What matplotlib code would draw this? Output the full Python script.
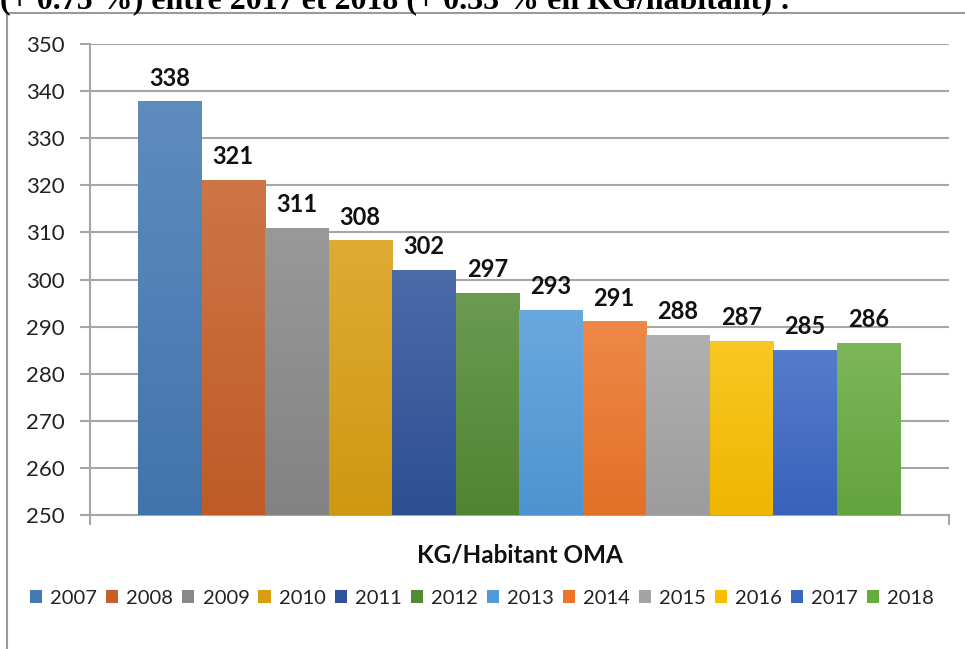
import numpy as np
import matplotlib
matplotlib.use('Agg')
import matplotlib.pyplot as plt
from matplotlib.colors import to_rgb
from matplotlib.patches import Patch, Rectangle

plt.rcParams['font.family'] = ['Lato', 'DejaVu Sans']

# data
years = ['2007', '2008', '2009', '2010', '2011', '2012',
         '2013', '2014', '2015', '2016', '2017', '2018']
kg_per_hab = [337.7, 321.1, 310.8, 308.2, 302.0, 297.1,
              293.4, 291.0, 288.1, 286.8, 285.0, 286.4]
bar_colors = ['#4479b3', '#c65f28', '#888888', '#d89e12', '#2f529a', '#538a35',
              '#519ad9', '#ec7529', '#a3a3a3', '#f9be00', '#3a67c3', '#67aa3f']
title_txt = '(+ 0.75 %) entre 2017 et 2018 (+ 0.33 % en KG/habitant) :'
xlabel_txt = 'KG/Habitant OMA'
y_min, y_max, y_step = 250, 350, 10


def mix(c, other, t):
    c = np.array(to_rgb(c))
    return c * (1 - t) + np.array(other) * t


fig = plt.figure(figsize=(9.65, 6.49), dpi=100)
ax = fig.add_axes([90 / 965, 1 - 515 / 649, 859 / 965, 471 / 649])

x = np.arange(len(years))
vals = np.array(kg_per_hab)
bars = ax.bar(x, vals - y_min, bottom=y_min, width=1.0, color=bar_colors,
              zorder=3, linewidth=0)

# vertical gradient on each bar (lighter at top)
grad = np.linspace(0, 1, 128).reshape(-1, 1, 1)
for rect, c in zip(bars, bar_colors):
    top = mix(c, (1, 1, 1), 0.14)
    bot = mix(c, (0, 0, 0), 0.04)
    img = top * (1 - grad) + bot * grad
    x0, y0 = rect.get_x(), rect.get_y()
    w, h = rect.get_width(), rect.get_height()
    ax.imshow(img, extent=[x0, x0 + w, y0, y0 + h], origin='upper',
              aspect='auto', zorder=4, interpolation='bilinear')
    ax.text(x0 + w / 2, y0 + h + 2.6, f'{round(y0 + h):.0f}', ha='center',
            va='bottom', fontsize=17, fontweight='bold', color='#111111', zorder=5)

ax.set_xlim(-0.5 - 48 / 63.5, len(years) - 0.5 + 49 / 63.5)
ax.set_ylim(y_min, y_max)
ax.set_yticks(np.arange(y_min, y_max + 1, y_step))
ax.set_xticks([-0.5 - 48 / 63.5, len(years) - 0.5 + 49 / 63.5])
ax.set_xticklabels([])

grid_c = '#a6a6a6'
ax.grid(axis='y', color=grid_c, linewidth=1.5, zorder=0)
for s in ['top', 'right']:
    ax.spines[s].set_visible(False)
for s in ['left', 'bottom']:
    ax.spines[s].set_color(grid_c)
    ax.spines[s].set_linewidth(1.5)
ax.tick_params(axis='y', length=7.2, width=1.5, color=grid_c, pad=11,
               labelsize=16, labelcolor='#222222')
ax.tick_params(axis='x', length=7.2, width=1.5, color=grid_c)

ax.set_xlabel(xlabel_txt, fontsize=17.5, fontweight='bold', labelpad=10,
              color='#111111')

handles = [Patch(facecolor=c, edgecolor='none') for c in bar_colors]
fig.legend(handles, years, loc='center', ncol=len(years),
           bbox_to_anchor=(482 / 965, 1 - 598 / 649), frameon=False,
           fontsize=14.5, handlelength=0.6, handleheight=0.6,
           handletextpad=0.4, columnspacing=0.45, labelcolor='#222222')

# outer frame of the pasted chart and the cut-off sentence above it
fig.add_artist(Rectangle((7 / 965, -0.1), 1.2, 1.1 - 13 / 649,
                         transform=fig.transFigure, fill=False,
                         edgecolor='#9a9a9a', linewidth=1.5, clip_on=False))
fig.text(0.0, 1 - 8 / 649, title_txt, ha='left', va='baseline',
         fontsize=23, fontweight='bold', family=['Liberation Serif', 'DejaVu Serif'])

fig.savefig('out.png', dpi=100)
